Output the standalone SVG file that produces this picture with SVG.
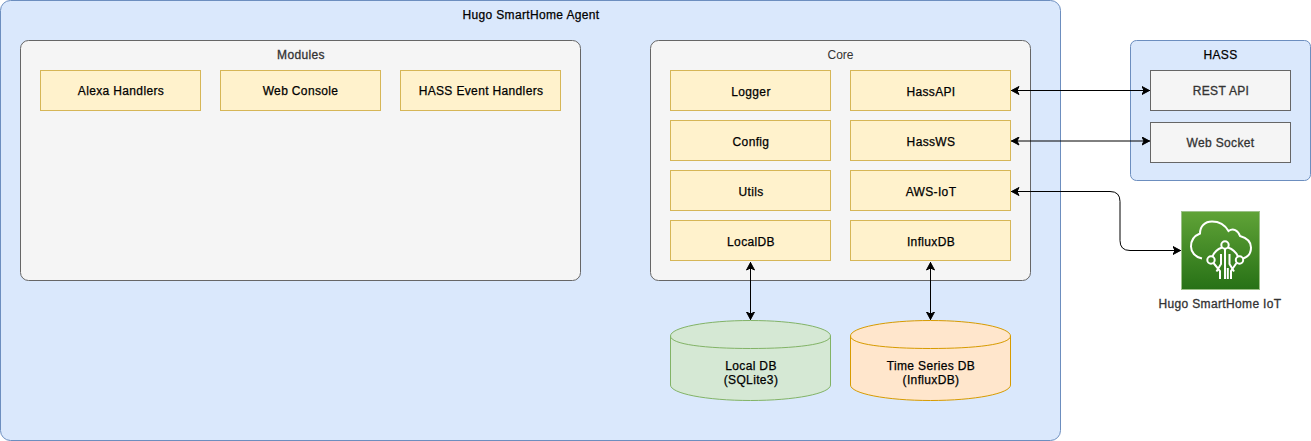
<svg xmlns="http://www.w3.org/2000/svg" width="1311" height="441" viewBox="0 0 1311 441">
<style>
text{font-family:"Liberation Sans",Arial,Helvetica,sans-serif;font-size:12px;letter-spacing:.35px;stroke:#000;stroke-width:.25px;text-anchor:middle;fill:#000}
.blue{fill:#dae8fc;stroke:#6c8ebf}
.gray{fill:#f5f5f5;stroke:#666}
.yel{fill:#fff2cc;stroke:#d6b656}
text.t{fill:#333;stroke:#333;stroke-width:.3px}
text.n{letter-spacing:0;stroke:none}
.c{fill:none;stroke:#000;stroke-width:1;marker-start:url(#a);marker-end:url(#a)}
</style>
<defs>
<marker id="a" viewBox="0 0 9 9" refX="8.500" refY="4.500" markerWidth="9" markerHeight="9" markerUnits="userSpaceOnUse" orient="auto-start-reverse"><path d="M0.5 0.5L8 4.500L0.5 8.500L2.500 4.500Z" fill="#000" stroke="#000"/></marker>
<linearGradient id="g" x1="0" y1="0" x2="0" y2="1"><stop offset="0" stop-color="#60a337"/><stop offset="1" stop-color="#277116"/></linearGradient>
</defs>
<g id="agent"><rect class="blue" x="0.5" y="0.5" width="1060" height="440" rx="10"/><text x="531" y="19">Hugo SmartHome Agent</text></g>
<g id="modules"><rect class="gray" x="20.5" y="40.5" width="560" height="240" rx="8"/><text class="t" x="301" y="59">Modules</text></g>
<g id="alexa"><rect class="yel" x="40.5" y="70.5" width="160" height="40"/><text x="121" y="95">Alexa Handlers</text></g>
<g id="webconsole"><rect class="yel" x="220.5" y="70.5" width="160" height="40"/><text x="300.500" y="95">Web Console</text></g>
<g id="hassevents"><rect class="yel" x="400.500" y="70.5" width="160" height="40"/><text x="481" y="95">HASS Event Handlers</text></g>
<g id="core"><rect class="gray" x="650.5" y="40.5" width="380" height="240" rx="8"/><text class="t n" x="840.500" y="59">Core</text></g>
<g id="logger"><rect class="yel" x="670.5" y="70.5" width="160" height="40"/><text x="751" y="96">Logger</text></g>
<g id="config"><rect class="yel" x="670.5" y="120.5" width="160" height="40"/><text x="751" y="146">Config</text></g>
<g id="utils"><rect class="yel" x="670.5" y="170.5" width="160" height="40"/><text x="751" y="196">Utils</text></g>
<g id="localdb"><rect class="yel" x="670.5" y="220.5" width="160" height="40"/><text x="751" y="246">LocalDB</text></g>
<g id="hassapi"><rect class="yel" x="850.5" y="70.5" width="160" height="40"/><text x="931" y="96">HassAPI</text></g>
<g id="hassws"><rect class="yel" x="850.5" y="120.5" width="160" height="40"/><text x="931" y="146">HassWS</text></g>
<g id="awsiot"><rect class="yel" x="850.5" y="170.5" width="160" height="40"/><text x="931" y="196">AWS-IoT</text></g>
<g id="influx"><rect class="yel" x="850.5" y="220.5" width="160" height="40"/><text x="931" y="246">InfluxDB</text></g>
<g id="hass"><rect class="blue" x="1130.5" y="40.5" width="180" height="140" rx="6"/><text x="1220.500" y="59">HASS</text></g>
<g id="rest"><rect class="gray" x="1150.5" y="70.5" width="140" height="40"/><text class="t" x="1221" y="95">REST API</text></g>
<g id="websocket"><rect class="gray" x="1150.5" y="122.5" width="140" height="40"/><text class="t" x="1220.500" y="147">Web Socket</text></g>
<g id="iot">
<rect x="1181.500" y="211.500" width="78" height="78" fill="url(#g)" stroke="#9cc088"/>
<g fill="none" stroke="#fff" stroke-width="2">
<path d="M1202 258.500C1195 257 1191 252 1191 246.500C1191 240 1195 235.500 1200 233.500C1200 226 1205 221.500 1212 221.500C1219 221.500 1225 225 1228.500 231C1233 228 1238 230 1240 236C1247 238 1251 242 1251 247.500C1251 253 1248 257 1243 258.500"/>
<circle cx="1225" cy="245" r="3.700"/><circle cx="1211" cy="260" r="3.700"/><circle cx="1239.500" cy="260" r="3.700"/>
<path d="M1222 247.500Q1215 250 1212.500 256.500M1228 247.500Q1235 250 1238 256.500M1225 249V279M1220 279V271L1213.500 263M1231 279V271L1236.500 263M1216.500 271.500L1221 264V254M1234 271.500L1229.500 264V254M1227.800 279V268"/>
</g>
<text class="t" x="1220" y="308">Hugo SmartHome IoT</text>
</g>
<g id="sqlite">
<path d="M670.500 336C670.500 327.500 706 320.500 750.500 320.500S830.500 327.500 830.500 336V385C830.500 393.500 795 400.500 750.500 400.500S670.500 393.500 670.500 385Z" fill="#d5e8d4" stroke="#82b366"/>
<path d="M670.500 336C670.500 344.500 706 348.500 750.500 348.500S830.500 344.500 830.500 336" fill="none" stroke="#82b366"/>
<text x="751" y="370">Local DB</text><text x="751" y="384">(SQLite3)</text>
</g>
<g id="tsdb">
<path d="M850.500 336C850.500 327.500 886 320.500 930.500 320.500S1010.500 327.500 1010.500 336V385C1010.500 393.500 975 400.500 930.500 400.500S850.500 393.500 850.500 385Z" fill="#ffe6cc" stroke="#d79b00"/>
<path d="M850.500 336C850.500 344.500 886 348.500 930.500 348.500S1010.500 344.500 1010.500 336" fill="none" stroke="#d79b00"/>
<text x="931" y="370">Time Series DB</text><text x="931" y="384">(InfluxDB)</text>
</g>
<g id="connectors">
<path class="c" d="M1011 90.500H1150"/>
<path class="c" d="M1011 141H1150"/>
<path class="c" d="M1011 191.500H1110Q1120 191.500 1120 201.500V240.500Q1120 250.500 1130 250.500H1181"/>
<path class="c" d="M750.500 262V320"/>
<path class="c" d="M930.500 262V320"/>
</g>
</svg>
